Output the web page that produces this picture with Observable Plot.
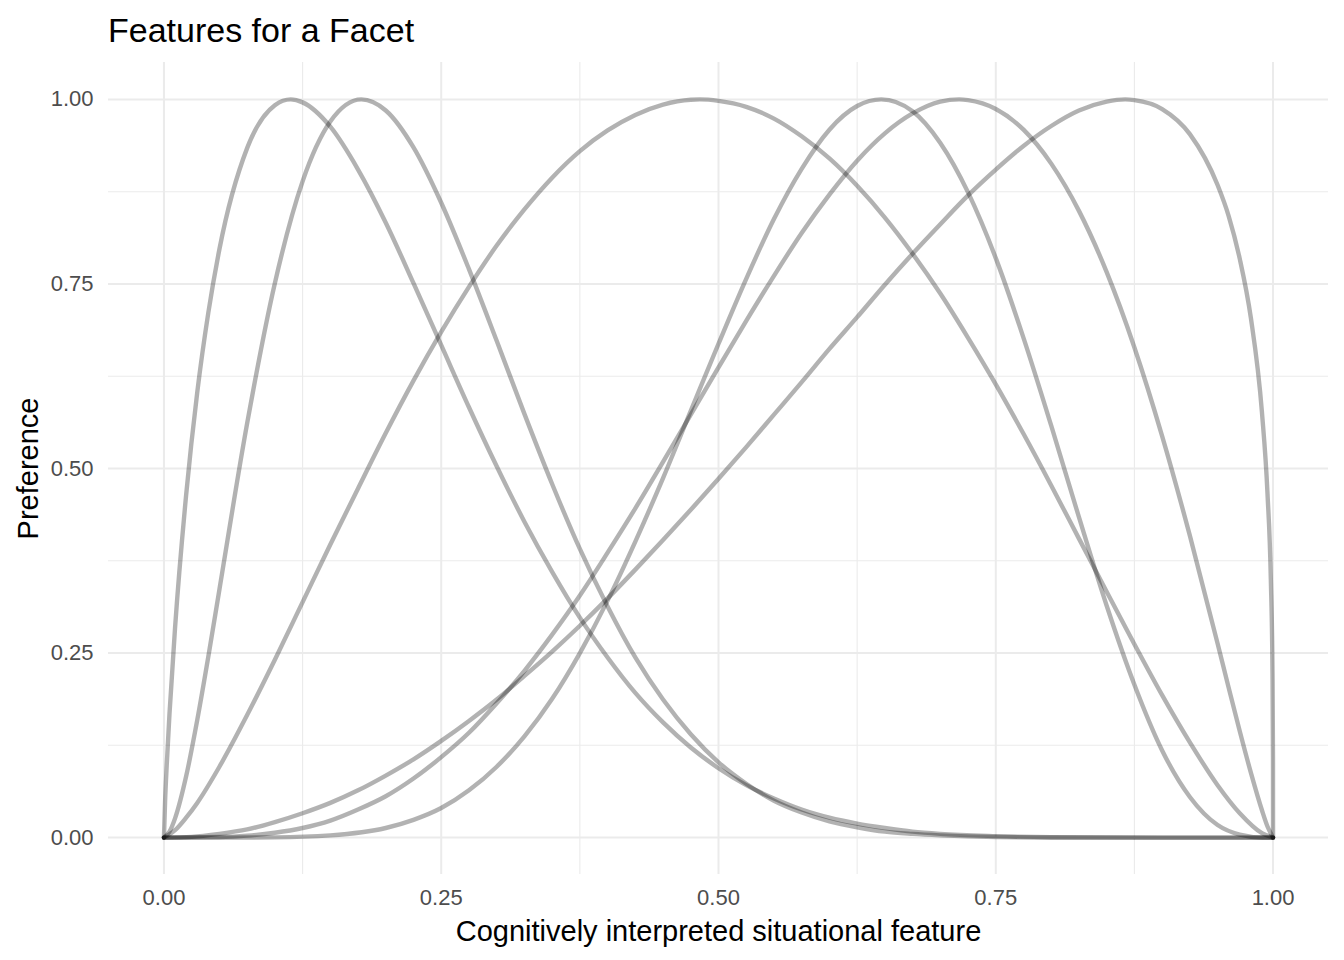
<!DOCTYPE html>
<html>
<head>
<meta charset="utf-8">
<script src="https://cdn.jsdelivr.net/npm/d3@7"></script>
<script src="https://cdn.jsdelivr.net/npm/@observablehq/plot@0.6"></script>
<style>
  html, body { margin: 0; padding: 0; background: #ffffff; }
  #wrap { position: relative; width: 1344px; height: 960px; font-family: "Liberation Sans", Arial, sans-serif; }
  #title { position: absolute; left: 108px; top: 13px; font-size: 34px; line-height: 1; color: #000; white-space: nowrap; }
  #chart { position: absolute; left: 0; top: 50px; }
</style>
</head>
<body>
<div id="wrap">
  <div id="title">Features for a Facet</div>
  <div id="chart"></div>
</div>
<script>
// Values: [feature, preference]
const curveA = [[0,0],[0.001,0.048],[0.0025,0.098],[0.005,0.168],[0.01,0.284],[0.02,0.464],[0.03,0.603],[0.04,0.711],[0.05,0.797],[0.075,0.934],[0.1,0.992],[0.1143,1],[0.125,0.996],[0.15,0.963],[0.175,0.905],[0.2,0.833],[0.225,0.751],[0.25,0.667],[0.275,0.583],[0.3,0.503],[0.325,0.428],[0.35,0.36],[0.375,0.298],[0.4,0.244],[0.425,0.196],[0.45,0.156],[0.475,0.122],[0.5,0.094],[0.525,0.071],[0.55,0.053],[0.575,0.038],[0.6,0.027],[0.625,0.019],[0.65,0.013],[0.675,0.008],[0.7,0.005],[0.75,0.002],[0.8,0.0005],[0.9,0],[1,0]];
const curveB = [[0,0],[0.005,0.008],[0.01,0.026],[0.02,0.083],[0.03,0.159],[0.04,0.245],[0.05,0.336],[0.075,0.561],[0.1,0.751],[0.125,0.889],[0.15,0.97],[0.178,1],[0.2,0.985],[0.225,0.935],[0.25,0.86],[0.275,0.77],[0.3,0.673],[0.325,0.574],[0.35,0.479],[0.375,0.391],[0.4,0.313],[0.425,0.244],[0.45,0.187],[0.475,0.14],[0.5,0.102],[0.525,0.073],[0.55,0.05],[0.575,0.034],[0.6,0.022],[0.625,0.014],[0.65,0.008],[0.675,0.005],[0.7,0.003],[0.75,0.0007],[0.8,0.0001],[0.9,0],[1,0]];
const curveC = [[0,0],[0.01,0.01],[0.02,0.027],[0.03,0.047],[0.05,0.096],[0.075,0.166],[0.1,0.241],[0.125,0.319],[0.15,0.397],[0.175,0.473],[0.2,0.548],[0.225,0.619],[0.25,0.685],[0.275,0.746],[0.3,0.802],[0.325,0.851],[0.35,0.894],[0.375,0.93],[0.4,0.958],[0.425,0.979],[0.45,0.993],[0.475,0.9996],[0.4833,1],[0.5,0.998],[0.525,0.99],[0.55,0.974],[0.575,0.95],[0.6,0.92],[0.625,0.883],[0.65,0.84],[0.675,0.791],[0.7,0.737],[0.725,0.677],[0.75,0.614],[0.775,0.547],[0.8,0.477],[0.825,0.405],[0.85,0.333],[0.875,0.262],[0.9,0.193],[0.925,0.129],[0.95,0.071],[0.97,0.033],[0.99,0.006],[1,0]];
const curveD = [[0,0],[0.05,0],[0.1,0.0003],[0.15,0.003],[0.2,0.013],[0.225,0.024],[0.25,0.04],[0.275,0.064],[0.3,0.096],[0.325,0.137],[0.35,0.188],[0.375,0.25],[0.4,0.321],[0.425,0.401],[0.45,0.487],[0.475,0.578],[0.5,0.669],[0.525,0.757],[0.55,0.838],[0.575,0.906],[0.6,0.959],[0.625,0.991],[0.6467,1],[0.675,0.984],[0.7,0.941],[0.725,0.874],[0.75,0.785],[0.775,0.677],[0.8,0.558],[0.825,0.434],[0.85,0.314],[0.875,0.207],[0.9,0.118],[0.925,0.055],[0.95,0.017],[0.97,0.004],[0.99,0.0001],[1,0]];
const curveE = [[0,0],[0.05,0.0007],[0.075,0.0026],[0.1,0.0066],[0.125,0.013],[0.15,0.023],[0.175,0.038],[0.2,0.056],[0.225,0.08],[0.25,0.109],[0.275,0.142],[0.3,0.182],[0.325,0.226],[0.35,0.275],[0.375,0.328],[0.4,0.386],[0.425,0.446],[0.45,0.509],[0.475,0.573],[0.5,0.637],[0.525,0.7],[0.55,0.761],[0.575,0.819],[0.6,0.871],[0.625,0.917],[0.65,0.954],[0.675,0.981],[0.7,0.997],[0.717,1],[0.725,0.999],[0.75,0.987],[0.775,0.959],[0.8,0.913],[0.825,0.849],[0.85,0.766],[0.875,0.664],[0.9,0.544],[0.925,0.409],[0.95,0.263],[0.96,0.203],[0.97,0.144],[0.98,0.088],[0.99,0.037],[0.995,0.015],[1,0]];
const curveF = [[0,0],[0.025,0.001],[0.05,0.005],[0.075,0.011],[0.1,0.021],[0.125,0.033],[0.15,0.047],[0.175,0.064],[0.2,0.084],[0.225,0.106],[0.25,0.131],[0.275,0.158],[0.3,0.187],[0.325,0.219],[0.35,0.252],[0.375,0.287],[0.4,0.324],[0.425,0.363],[0.45,0.403],[0.475,0.444],[0.5,0.486],[0.525,0.529],[0.55,0.573],[0.575,0.617],[0.6,0.662],[0.625,0.705],[0.65,0.749],[0.675,0.791],[0.7,0.831],[0.725,0.87],[0.75,0.905],[0.775,0.937],[0.8,0.964],[0.825,0.985],[0.85,0.997],[0.8667,1],[0.875,0.999],[0.9,0.987],[0.925,0.953],[0.95,0.884],[0.96,0.842],[0.97,0.784],[0.98,0.704],[0.99,0.576],[0.995,0.466],[0.998,0.35],[0.9995,0.225],[0.99995,0.108],[1,0]];

const curveNames = ["A", "B", "C", "D", "E", "F"];
const majorTicks = [0, 0.25, 0.5, 0.75, 1];
const minorTicks = [0.125, 0.375, 0.625, 0.875];
const titleText = "Features for a Facet";
const xLabel = "Cognitively interpreted situational feature";
const yLabel = "Preference";

const allCurves = [curveA, curveB, curveC, curveD, curveE, curveF];
const rows = allCurves.flatMap((c, i) => c.map(([x, y]) => ({curve: curveNames[i], x, y})));

const fmt = d3.format(".2f");
const plot = Plot.plot({
  width: 1344,
  height: 910,
  marginLeft: 108,
  marginRight: 16,
  marginTop: 12,
  marginBottom: 86,
  x: {domain: [-0.05, 1.05]},
  y: {domain: [-0.05, 1.05]},
  style: {fontFamily: "'Liberation Sans', Arial, sans-serif", fontSize: "22px", color: "#4d4d4d", background: "#ffffff", overflow: "visible"},
  marks: [
    Plot.ruleX(minorTicks, {stroke: "#ebebeb", strokeWidth: 1.1}),
    Plot.ruleY(minorTicks, {stroke: "#ebebeb", strokeWidth: 1.1}),
    Plot.ruleX(majorTicks, {stroke: "#ebebeb", strokeWidth: 2}),
    Plot.ruleY(majorTicks, {stroke: "#ebebeb", strokeWidth: 2}),
    Plot.axisX(majorTicks, {tickSize: 0, tickPadding: 15, tickFormat: fmt, fill: "#4d4d4d", fontSize: 22, label: null}),
    Plot.axisY(majorTicks, {tickSize: 0, tickPadding: 15, tickFormat: fmt, fill: "#4d4d4d", fontSize: 22, label: null}),
    Plot.line(rows, {x: "x", y: "y", z: "curve", stroke: "#000000", strokeOpacity: 0.3, strokeWidth: 4.4, curve: "monotone-x", strokeLinejoin: "round"}),
    Plot.text([xLabel], {frameAnchor: "bottom", dy: 66, fontSize: 29, fill: "#000000", textAnchor: "middle"}),
    Plot.text([yLabel], {frameAnchor: "left", dx: -80, rotate: -90, fontSize: 29, fill: "#000000", textAnchor: "middle"})
  ]
});
document.getElementById("title").textContent = titleText;
document.getElementById("chart").appendChild(plot);
</script>
</body>
</html>
